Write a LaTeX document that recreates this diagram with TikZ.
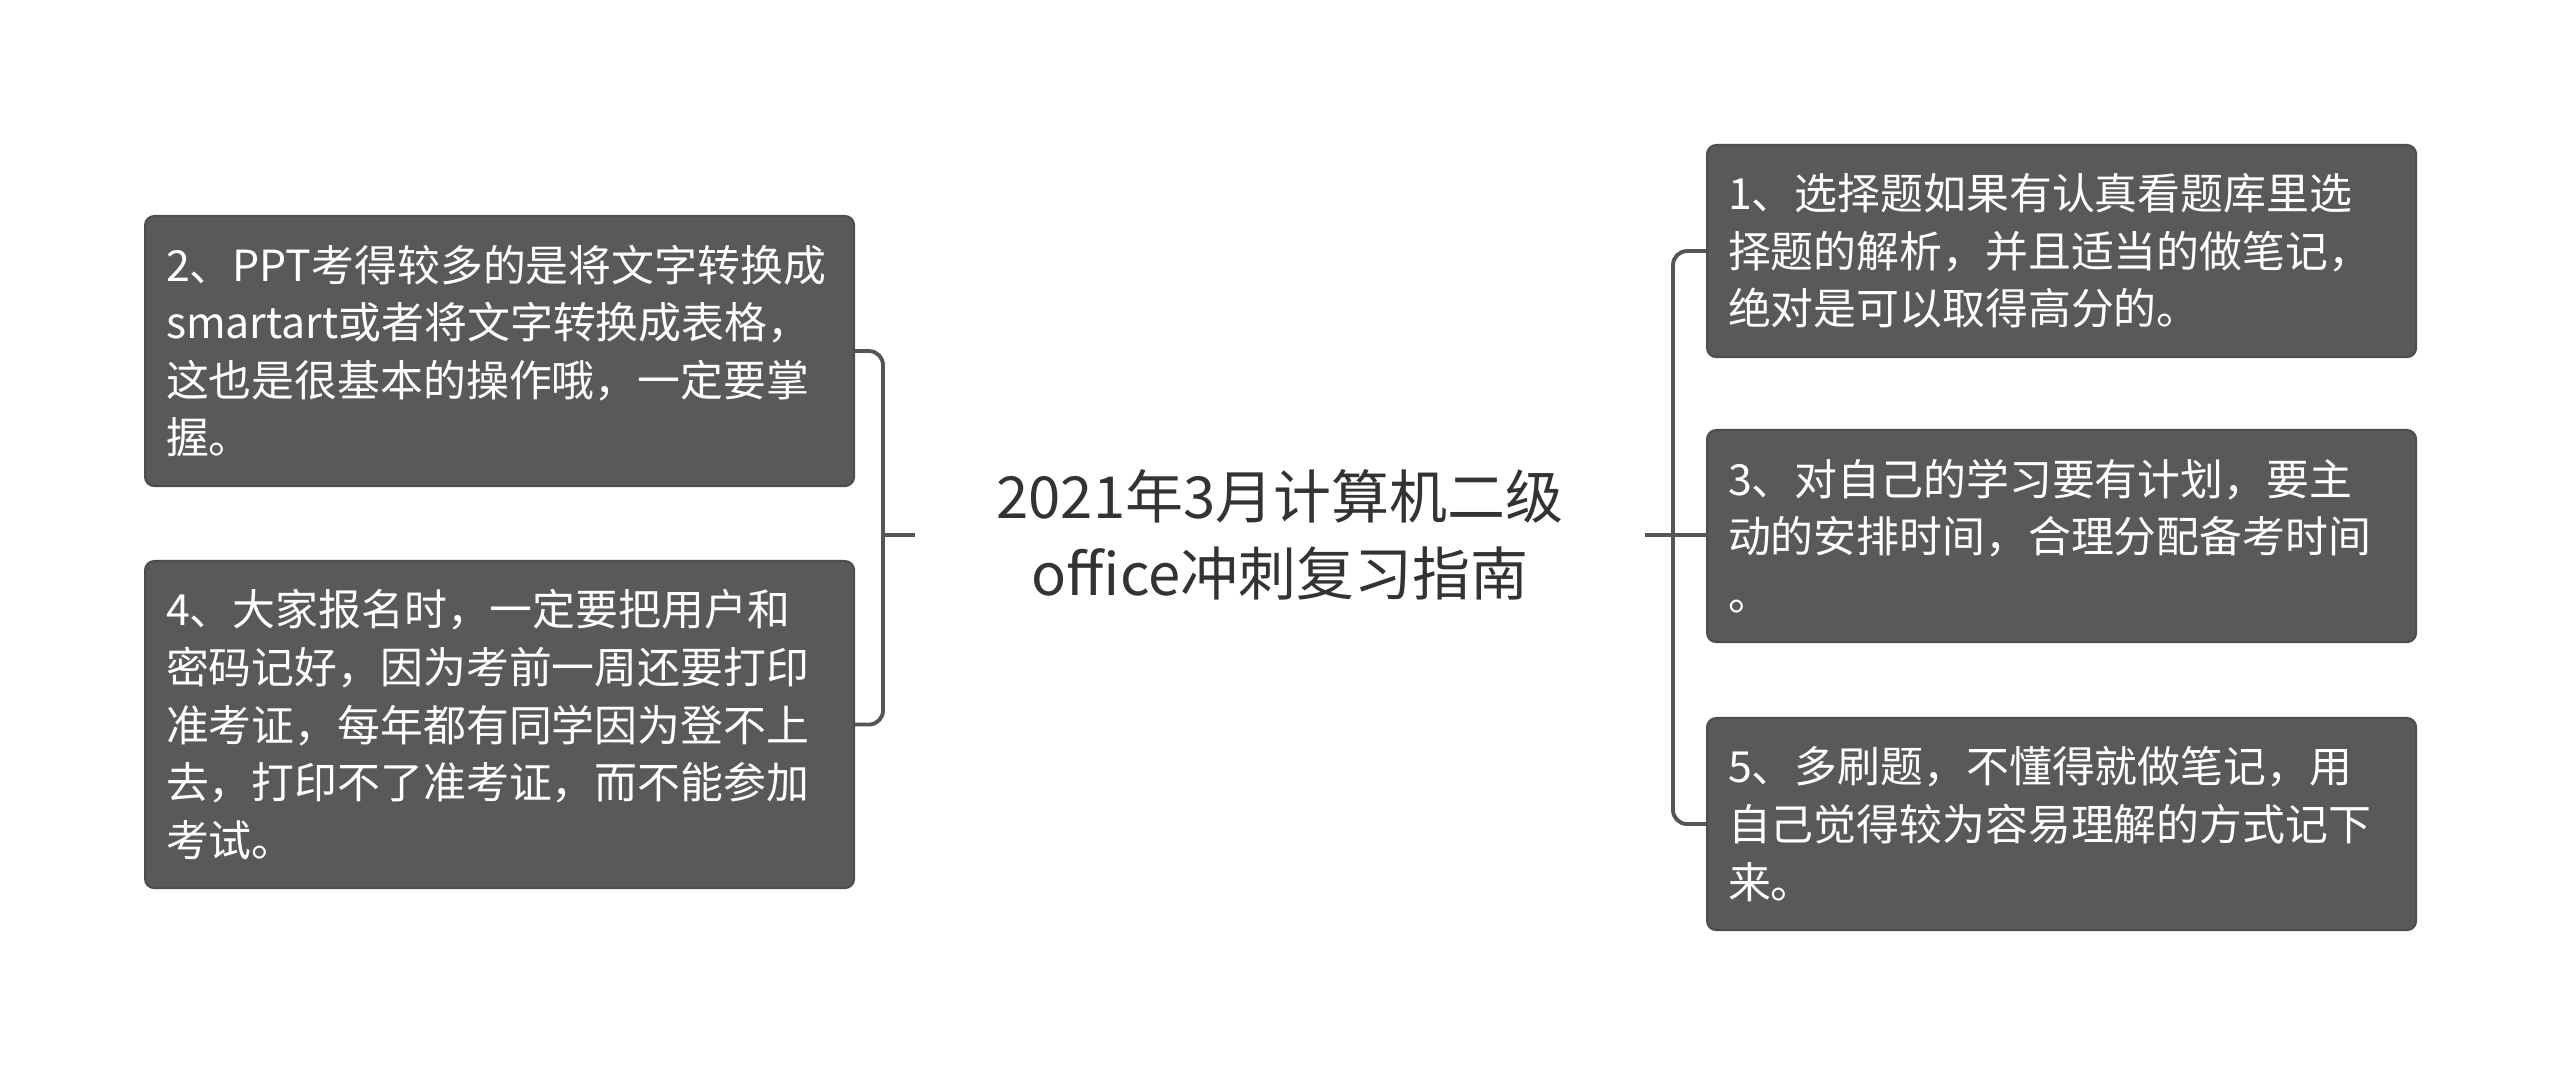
\documentclass[tikz,border=0pt]{standalone}
\usepackage{fontspec}
\setmainfont{Noto Sans CJK SC}
\usepackage{xcolor}
\usepackage{tikz}
\usetikzlibrary{positioning}
\definecolor{boxgray}{HTML}{595959}
\definecolor{boxedge}{HTML}{4D4D4D}
\definecolor{linkgray}{HTML}{555555}
\definecolor{titlegray}{HTML}{333333}

\begin{document}
\begin{tikzpicture}[
    tipbox/.style={fill=boxgray, draw=boxedge, line width=0.6pt, rounded corners=2.6pt,
          anchor=north west, text=white, align=left, inner xsep=0.21cm,
          text width=6.67cm, minimum width=7.09cm,
          font=\fontsize{12.2pt}{16.4pt}\selectfont},
    link/.style={draw=linkgray, line width=1.1pt, rounded corners=0.14cm}]
    \useasboundingbox (0,0) rectangle (25.6,-10.75);

    \node[font=\fontsize{16.5pt}{22pt}\selectfont, text=titlegray, align=center,
          minimum width=7.28cm, inner sep=0pt] (root) at (12.80,-5.35)
      {2021年3月计算机二级\\office冲刺复习指南};

    % left side
    \node[tipbox, minimum height=2.70cm] (tip2) at (1.44,-2.15)
      {2、PPT考得较多的是将文字转换成\\smartart或者将文字转换成表格，\\这也是很基本的操作哦，一定要掌\\握。};
    \node[tipbox, minimum height=3.27cm] (tip4) at (1.44,-5.60)
      {4、大家报名时，一定要把用户和\\密码记好，因为考前一周还要打印\\准考证，每年都有同学因为登不上\\去，打印不了准考证，而不能参加\\考试。};

    % right side
    \node[tipbox, minimum height=2.12cm] (tip1) at (17.06,-1.44)
      {1、选择题如果有认真看题库里选\\择题的解析，并且适当的做笔记，\\绝对是可以取得高分的。};
    \node[tipbox, minimum height=2.12cm] (tip3) at (17.06,-4.29)
      {3、对自己的学习要有计划，要主\\动的安排时间，合理分配备考时间\\。};
    \node[tipbox, minimum height=2.12cm] (tip5) at (17.06,-7.17)
      {5、多刷题，不懂得就做笔记，用\\自己觉得较为容易理解的方式记下\\来。};

    \coordinate (hubL) at (8.83,-5.35);
    \coordinate (hubR) at (16.73,-5.35);

    \draw[link] (root.west) -- (hubL);
    \draw[link] (tip2.east) -| (hubL) |- (tip4.east);
    \draw[link] (root.east) -- (root.east -| tip3.west);
    \draw[link] (tip1.west) -| (hubR) |- (tip5.west);
\end{tikzpicture}
\end{document}
